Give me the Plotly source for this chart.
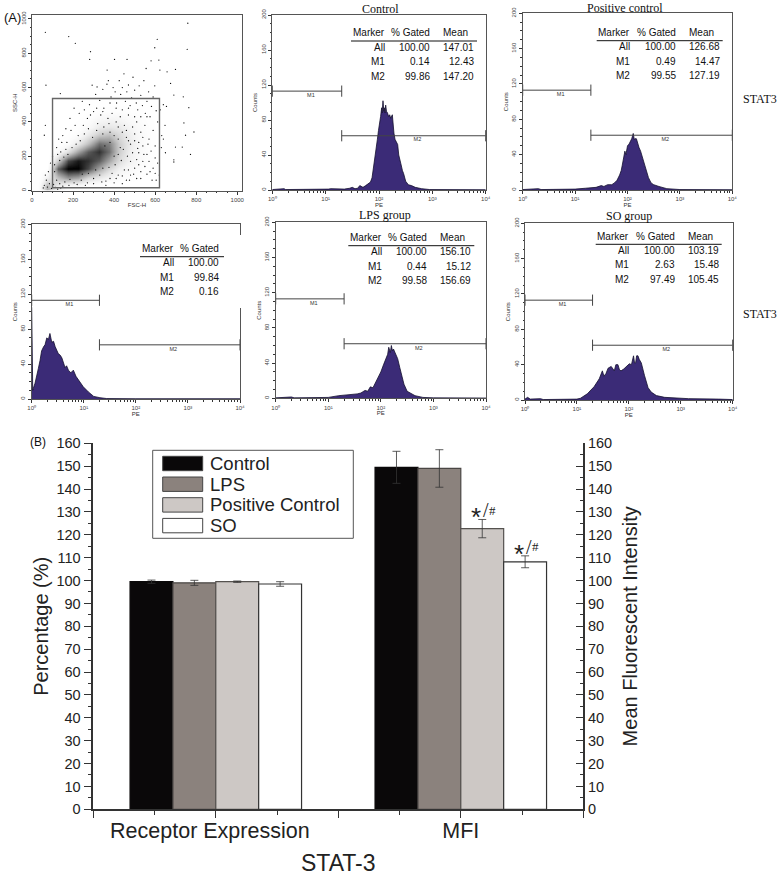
import plotly.graph_objects as go

W, H = 781, 875

# ---- flow cytometry data ----
# histograms: log10(PE) channel position and counts
control_log = [0.0, 0.22, 0.25, 0.3, 0.6, 0.75, 0.9, 1.05, 1.1, 1.25, 1.35, 1.45, 1.5, 1.55, 1.6, 1.64, 1.7, 1.75, 1.8, 1.84,
               1.87, 1.89, 1.91, 1.93, 1.95, 1.97, 1.99, 2.01, 2.03, 2.05, 2.06, 2.075, 2.09, 2.1, 2.115, 2.125, 2.14, 2.16, 2.18, 2.2,
               2.22, 2.25, 2.265, 2.28, 2.3, 2.32, 2.35, 2.37, 2.39, 2.41, 2.44, 2.46, 2.5, 2.55, 2.61, 2.68, 2.8, 2.95, 4.0]
control_counts = [0.5, 1.5, 0.5, 0.5, 0.5, 1, 1, 1, 1.5, 1, 1, 2, 3, 1.5, 2, 5, 3, 5, 7, 9,
                  14, 22, 30, 38, 50, 58, 68, 74, 84, 94, 88, 102, 90, 94, 88, 97, 90, 88, 84, 86,
                  82, 86, 70, 65, 58, 56, 52, 40, 36, 30, 22, 19, 10, 6, 5, 3, 1.5, 0.5, 0.3]

positive_log = [0.0, 0.3, 0.35, 0.7, 1.0, 1.2, 1.4, 1.5, 1.55, 1.62, 1.7, 1.75, 1.8, 1.85, 1.88, 1.9, 1.93, 1.95, 1.97, 2.0,
                2.03, 2.06, 2.08, 2.09, 2.11, 2.13, 2.14, 2.17, 2.2, 2.22, 2.25, 2.3, 2.35, 2.4, 2.45, 2.5, 2.6, 2.75, 3.0, 4.0]
positive_counts = [0.5, 1.5, 0.5, 0.5, 1, 2, 3, 5, 4, 6, 6, 8, 11, 17, 22, 28, 36, 44, 40, 50,
                   52, 55, 58, 60, 64, 57, 58, 58, 50, 48, 44, 33, 22, 14, 8, 6, 4, 1.5, 0.5, 0.3]

low_log = [0.0, 0.02, 0.03, 0.064, 0.1, 0.128, 0.16, 0.19, 0.23, 0.256, 0.29, 0.32, 0.35, 0.385, 0.42, 0.45, 0.51, 0.55, 0.58, 0.64,
           0.67, 0.705, 0.75, 0.8, 0.85, 0.9, 0.99, 1.09, 1.19, 1.31, 1.44, 2.0, 4.0]
low_counts = [105, 10, 12, 18, 26, 35, 44, 55, 60, 62, 70, 68, 75, 65, 66, 60, 52, 50, 47, 36,
              38, 33, 30, 33, 26, 22, 14, 8, 3, 1.5, 0.5, 0.3, 0.3]

lps_log = [0.0, 0.3, 0.35, 0.7, 1.0, 1.2, 1.4, 1.55, 1.62, 1.7, 1.75, 1.8, 1.85, 1.92, 1.97, 2.0, 2.05, 2.1, 2.13, 2.15,
           2.18, 2.2, 2.22, 2.24, 2.28, 2.32, 2.36, 2.4, 2.44, 2.5, 2.55, 2.65, 2.8, 3.0, 4.0]
lps_counts = [0.5, 1.5, 0.5, 0.5, 1, 3, 4, 5, 6, 9, 8, 13, 12, 20, 25, 30, 38, 45, 50, 58,
              52, 60, 54, 56, 50, 45, 35, 25, 16, 8, 6, 3, 1, 0.5, 0.3]

so_log = [0.0, 0.05, 0.1, 0.3, 0.35, 0.75, 1.0, 1.07, 1.2, 1.33, 1.43, 1.49, 1.52, 1.56, 1.6, 1.66, 1.72, 1.75, 1.79, 1.82,
          1.85, 1.9, 1.95, 2.01, 2.05, 2.09, 2.11, 2.13, 2.15, 2.175, 2.2, 2.24, 2.3, 2.37, 2.43, 2.53, 2.69, 2.89, 3.15, 3.73, 4.0]
so_counts = [1, 3, 1, 1.5, 0.5, 1, 1, 2, 7, 15, 24, 33, 27, 30, 36, 38, 33, 40, 40, 34,
             33, 35, 38, 41, 40, 50, 42, 42, 50, 50, 46, 42, 28, 14, 9, 5, 3, 2, 1.5, 1, 0.5]

gate_m1_pe = [1, 20]
gate_m2_pe = [20, 10000]
gate_m1_level = 113
gate_m2_level = 62
decade_labels = ["10⁰", "10¹", "10²", "10³", "10⁴"]

# statistic tables
table_markers = ["All", "M1", "M2"]
control_gated = ["100.00", "0.14", "99.86"]
control_mean = ["147.01", "12.43", "147.20"]
positive_gated = ["100.00", "0.49", "99.55"]
positive_mean = ["126.68", "14.47", "127.19"]
low_gated = ["100.00", "99.84", "0.16"]
lps_gated = ["100.00", "0.44", "99.58"]
lps_mean = ["156.10", "15.12", "156.69"]
so_gated = ["100.00", "2.63", "97.49"]
so_mean = ["103.19", "15.48", "105.45"]

# FSC/SSC dot plot: density of the main cloud, plus the separate dots
density_fsc = [25, 75, 125, 175, 225, 275, 325, 375, 425, 475, 525, 575, 625]
density_ssc = [25, 75, 125, 175, 225, 275, 325, 375, 425, 475, 525, 575]
density = [
    [0, .55, .25, .1, .1, .05, .03, 0, 0, 0, 0, 0, 0],
    [0, .25, .5, .65, .6, .4, .3, .2, .12, .08, .05, .03, 0],
    [0, .05, .8, 1, 1, .85, .6, .4, .25, .15, .1, .05, 0],
    [0, 0, .45, .85, .95, .9, .8, .6, .38, .22, .14, .07, .01],
    [0, 0, .15, .35, .6, .8, .9, .75, .45, .25, .15, .08, .02],
    [0, 0, .04, .12, .3, .5, .75, .7, .45, .28, .16, .08, .02],
    [0, 0, .01, .05, .13, .28, .45, .5, .38, .25, .15, .08, .02],
    [0, 0, 0, .03, .07, .15, .27, .3, .28, .2, .13, .07, .02],
    [0, 0, 0, .01, .04, .08, .15, .18, .17, .13, .1, .05, .02],
    [0, 0, 0, 0, .01, .03, .05, .06, .06, .05, .05, .03, .01],
    [0, 0, 0, 0, 0, .01, .02, .02, .03, .03, .03, .02, 0],
    [0, 0, 0, 0, 0, 0, .01, .01, .02, .02, .01, .01, 0],
]
dots_fsc = [65, 179, 211, 285, 281, 759, 610, 598, 756, 463, 402, 618, 580, 556, 699, 658, 623, 366, 68, 293,
            317, 138, 675, 691, 737, 764, 740, 789, 748, 772, 691, 691, 699, 732, 65, 60,
            310, 330, 345, 365, 372, 385, 395, 405, 412, 425, 432, 440, 448, 455, 462, 470, 478, 485, 492, 500,
            508, 515, 522, 530, 538, 545, 552, 560, 568, 575, 582, 590, 598, 605, 612, 625, 632, 640, 648, 655,
            640, 630, 650, 612, 620, 605, 575, 540, 520, 500, 480, 460, 440, 400, 360,
            230, 250, 270, 280, 300, 320, 335, 350, 370, 390, 410, 430, 450, 470, 490, 510, 530, 550, 570, 590,
            350, 380, 420, 460, 500, 540, 560, 520, 480, 450, 420, 380, 340, 300, 260, 220, 180, 150,
            120, 130, 150, 170, 190, 210, 225, 100, 90, 80, 70, 65, 60, 55, 110, 140, 165, 75, 85, 95, 105, 115, 125, 140,
            240, 270, 300, 330, 360, 390, 410, 440, 470, 495, 510, 530, 550, 570, 590, 600, 580, 600, 565, 540, 520, 500,
            480, 460, 440, 420, 400, 375, 345, 315, 295, 275, 255, 235, 215, 195, 175, 155, 135, 120, 135, 160, 185, 205,
            245, 275, 310, 345, 375, 405, 435, 465, 490, 515, 545, 400, 430, 380, 355, 420, 445, 470, 510, 475, 530, 560,
            585, 600, 560, 530, 500, 470, 440, 410, 380, 345, 315, 285, 255, 245, 205, 185, 165, 145, 125, 110]
dots_ssc = [922, 897, 858, 809, 764, 975, 881, 832, 823, 764, 764, 760, 756, 711, 706, 692, 702, 702, 614, 614,
            604, 565, 624, 556, 546, 483, 394, 341, 322, 210, 179, 166, 253, 253, 380, 322,
            560, 525, 590, 620, 640, 545, 600, 575, 510, 640, 560, 600, 680, 520, 575, 615, 495, 540, 660, 585,
            510, 470, 610, 555, 495, 640, 450, 520, 575, 430, 490, 545, 610, 465, 400, 470, 320, 500, 380, 490,
            300, 250, 220, 160, 90, 60, 110, 170, 220, 130, 90, 60, 40, 45, 30,
            450, 380, 420, 500, 460, 390, 440, 480, 420, 450, 400, 430, 380, 440, 370, 400, 340, 380, 300, 350,
            370, 340, 300, 310, 290, 260, 210, 150, 170, 120, 90, 70, 50, 40, 30, 35, 30, 25,
            250, 300, 320, 280, 350, 380, 320, 200, 160, 110, 60, 90, 30, 15, 150, 225, 240, 20, 40, 12, 35, 18, 8, 14,
            60, 45, 70, 90, 55, 100, 70, 85, 120, 95, 70, 110, 140, 170, 130, 190, 230, 260, 270, 310, 280, 330,
            270, 350, 340, 370, 320, 390, 330, 350, 310, 360, 330, 290, 270, 250, 210, 195, 175, 60, 40, 50, 65, 45,
            95, 100, 120, 130, 135, 150, 175, 200, 220, 245, 210, 200, 250, 280, 260, 210, 240, 290, 180, 60, 70, 95,
            60, 100, 430, 430, 430, 480, 470, 480, 510, 460, 480, 440, 470, 520, 480, 420, 360, 280, 210, 110]

# ---- bar chart data ----
series_names = ["Control", "LPS", "Positive Control", "SO"]
series_colors = ["#0a0809", "#8b827d", "#cdc8c5", "#ffffff"]
series_edges = ["#0a0809", "#4a4644", "#55524f", "#333333"]
bar_categories = ["Receptor Expression\u00a0\u00a0", "MFI"]
receptor_values = [99.5, 99.0, 99.5, 98.5]
receptor_errors = [0.7, 1.1, 0.3, 1.0]
mfi_values = [149.5, 149.0, 122.7, 108.2]
mfi_errors = [7.0, 8.2, 4.0, 2.6]
mfi_marked = [False, False, True, True]


def fx(px):
    return px / W


def fy(py):
    return 1 - py / H


LABEL = "Liberation Sans"
SERIF = "Liberation Serif"
fig = go.Figure()
annotations = []
shapes = []
layout = {}


def text(px, py, s, size, family=LABEL, anchor="center", angle=0, color="#111111"):
    annotations.append(dict(xref="paper", yref="paper", x=fx(px), y=fy(py), text=s, showarrow=False,
                            xanchor=anchor, yanchor="middle", textangle=angle, borderpad=0,
                            font=dict(family=family, size=size, color=color)))


def small_axes(n, box, xaxis_extra, yaxis_extra):
    left, top, right, bottom = box
    common = dict(showline=True, linecolor="#555555", linewidth=1, mirror=True, showgrid=False, zeroline=False,
                  ticks="outside", ticklen=3, tickcolor="#333333", tickwidth=0.7, automargin=False,
                  tickfont=dict(family=LABEL, size=6, color="#444444"))
    layout[f"xaxis{n}"] = dict(common, domain=[fx(left), fx(right)], anchor=f"y{n}",
                               title=dict(font=dict(family=LABEL, size=6, color="#333333"), standoff=1), **xaxis_extra)
    layout[f"yaxis{n}"] = dict(common, domain=[fy(bottom), fy(top)], anchor=f"x{n}", tickangle=-90,
                               title=dict(font=dict(family=LABEL, size=6, color="#333333"), standoff=2), **yaxis_extra)


def histogram_panel(n, box, logs, counts):
    small_axes(n, box,
               dict(type="log", range=[0, 4], tickvals=[1, 10, 100, 1000, 10000],
                    ticktext=decade_labels, title_text="PE",
                    minor=dict(ticks="outside", ticklen=1.5, dtick="D1", tickcolor="#333333", tickwidth=0.5)),
               dict(range=[0, 200], tickvals=[0, 40, 80, 120, 160, 200], title_text="Counts",
                    minor=dict(ticks="outside", ticklen=1.5, dtick=10, tickcolor="#333333", tickwidth=0.5)))
    xa, ya = f"x{n}", f"y{n}"
    fig.add_trace(go.Scatter(x=[10 ** v for v in logs], y=counts, mode="lines", xaxis=xa, yaxis=ya,
                             line=dict(color="#14102e", width=0.8),
                             fill="tozeroy", fillcolor="#3b2b77", showlegend=False))
    for pe, level, lab, lab_x in [(gate_m1_pe, gate_m1_level, "M1", 5.3), (gate_m2_pe, gate_m2_level, "M2", 525)]:
        fig.add_trace(go.Scatter(x=pe, y=[level, level], mode="lines+markers", xaxis=xa, yaxis=ya, cliponaxis=False,
                                 line=dict(color="#444444", width=1),
                                 marker=dict(symbol="line-ns", size=8, line=dict(color="#444444", width=1)),
                                 showlegend=False))
        fig.add_trace(go.Scatter(x=[lab_x], y=[level - 5], mode="text", text=[lab], xaxis=xa, yaxis=ya,
                                 textfont=dict(family=LABEL, size=5.5, color="#333333"), showlegend=False))


def stat_table(rule_x, rule_y, gated, mean=None):
    width = 126 if mean else 84
    shapes.append(dict(type="line", xref="paper", yref="paper", x0=fx(rule_x), x1=fx(rule_x + width),
                       y0=fy(rule_y), y1=fy(rule_y), line=dict(color="#111111", width=1)))
    text(rule_x + 34.7, rule_y - 8, "Marker", 10, anchor="right")
    text(rule_x + 80, rule_y - 8, "% Gated", 10, anchor="right")
    if mean:
        text(rule_x + 118, rule_y - 8, "Mean", 10, anchor="right")
    for i, marker in enumerate(table_markers):
        row_y = rule_y + 6 + 14.5 * i
        text(rule_x + 34.7, row_y, marker, 10, anchor="right")
        text(rule_x + 80, row_y, gated[i], 10, anchor="right")
        if mean:
            text(rule_x + 124, row_y, mean[i], 10, anchor="right")


# ---- (A) dot plot ----
small_axes(1, (32, 15, 242, 190.5),
           dict(range=[0, 1023], tickvals=[0, 200, 400, 600, 800, 1000], title_text="FSC-H",
                minor=dict(ticks="outside", ticklen=1.5, dtick=50, tickcolor="#333333", tickwidth=0.5)),
           dict(range=[0, 1023], tickvals=[0, 200, 400, 600, 800, 1000], title_text="SSC-H",
                minor=dict(ticks="outside", ticklen=1.5, dtick=50, tickcolor="#333333", tickwidth=0.5)))
fig.add_trace(go.Heatmap(x=density_fsc, y=density_ssc, z=density, xaxis="x1", yaxis="y1", zsmooth="best",
                         zmin=0, zmax=1, showscale=False,
                         colorscale=[[0, "rgba(255,255,255,0)"], [1, "rgba(0,0,0,1)"]]))
fig.add_trace(go.Scatter(x=dots_fsc, y=dots_ssc, mode="markers", xaxis="x1", yaxis="y1",
                         marker=dict(color="#111111", size=1.3), showlegend=False))
shapes.append(dict(type="rect", xref="x1", yref="y1", x0=100, x1=621, y0=16, y1=536,
                   line=dict(color="#666666", width=1.4)))

# ---- (A) histograms ----
histogram_panel(2, (272.3, 15, 485.7, 190), control_log, control_counts)
histogram_panel(3, (522.7, 13.3, 732.3, 190), positive_log, positive_counts)
histogram_panel(4, (31.7, 224.3, 240, 399), low_log, low_counts)
histogram_panel(5, (275.7, 222.3, 486, 398.3), lps_log, lps_counts)
histogram_panel(6, (525, 223.3, 732.7, 400), so_log, so_counts)

stat_table(351, 41, control_gated, control_mean)
stat_table(596.7, 40.7, positive_gated, positive_mean)
stat_table(140, 256.7, low_gated)
stat_table(348.3, 245.7, lps_gated, lps_mean)
stat_table(595.7, 244.3, so_gated, so_mean)

# the table hides part of the frame in the lower left panel
shapes.append(dict(type="rect", xref="paper", yref="paper", x0=fx(238), x1=fx(242), y0=fy(308), y1=fy(235),
                   fillcolor="white", line=dict(width=0)))

text(380, 9, "Control", 12, SERIF)
text(625, 8, "Positive control", 12, SERIF)
text(385, 215, "LPS group", 12, SERIF)
text(629, 216, "SO group", 12, SERIF)
text(760, 99, "STAT3", 12, SERIF)
text(760, 314, "STAT3", 12, SERIF)
text(3, 17, "(A)", 13, anchor="left")
text(29, 442, "(B)", 12, anchor="left")

# ---- (B) bars ----
BAR = 0.175
for i, name in enumerate(series_names):
    offset = -2 * BAR + i * BAR
    fig.add_trace(go.Bar(name=name, x=[1], y=[receptor_values[i]], width=BAR, offset=offset, xaxis="x7", yaxis="y7",
                         marker=dict(color=series_colors[i], line=dict(color=series_edges[i], width=1.2)),
                         error_y=dict(type="data", array=[receptor_errors[i]], color="#333333", thickness=0.8, width=4),
                         showlegend=False))
    fig.add_trace(go.Bar(name=name, x=[2], y=[mfi_values[i]], width=BAR, offset=offset, xaxis="x7", yaxis="y8",
                         marker=dict(color=series_colors[i], line=dict(color=series_edges[i], width=1.2)),
                         error_y=dict(type="data", array=[mfi_errors[i]], color="#333333", thickness=0.8, width=4),
                         showlegend=False))
    if mfi_marked[i]:
        # "*/#" above the error bar, the three glyphs have their own sizes and offsets
        for glyph, family, size, xshift, yshift in [("*", LABEL, 26, -6.3, 2), ("/", SERIF, 20, 3.4, 9), ("#", SERIF, 13, 10.5, 9)]:
            annotations.append(dict(xref="x7", yref="y8", x=2 - 2 * BAR + (i + 0.5) * BAR, y=mfi_values[i] + mfi_errors[i],
                                    yanchor="middle", xshift=xshift, yshift=yshift, showarrow=False, text=glyph,
                                    font=dict(family=family, size=size, color="#222222")))

bar_ticks = dict(ticklen=8, tickcolor="#333333", tickwidth=1.2, automargin=False,
                 tickfont=dict(family=LABEL, size=14.5, color="#222222"))
y_ticks = list(range(0, 170, 10))
layout["xaxis7"] = dict(domain=[fx(93.3), fx(583.3)], anchor="y7", range=[0.5, 2.5], showgrid=False, zeroline=False,
                        showline=True, linecolor="#333333", linewidth=1.5, ticks="outside", ticklen=7,
                        tickcolor="#333333", tickwidth=1.2, automargin=False, ticklabelstandoff=-6,
                        tickvals=[0.5, 1, 1.5, 2, 2.5], ticktext=["", bar_categories[0], "", bar_categories[1], ""],
                        tickfont=dict(family=LABEL, size=21.5, color="#222222"),
                        minor=dict(ticks="outside", ticklen=4, tickvals=[0.75, 1.25, 1.75, 2.25],
                                   tickcolor="#333333", tickwidth=1.2))
layout["yaxis7"] = dict(bar_ticks, domain=[fy(809.3), fy(443.3)], anchor="x7", range=[0, 160], tickvals=y_ticks,
                        showgrid=False, zeroline=False, showline=True, linecolor="#333333", linewidth=1.5,
                        ticks="outside", minor=dict(ticks="outside", ticklen=4, dtick=5, tickcolor="#333333", tickwidth=1),
                        title=dict(text="Percentage (%)", font=dict(family=LABEL, size=20, color="#222222"), standoff=2))
layout["yaxis8"] = dict(bar_ticks, overlaying="y7", anchor="x7", side="right", range=[0, 160], tickvals=y_ticks,
                        showgrid=False, zeroline=False, showline=True, linecolor="#333333", linewidth=1.5,
                        ticks="inside", minor=dict(ticks="inside", ticklen=4, dtick=5, tickcolor="#333333", tickwidth=1),
                        title=dict(text="Mean Fluorescent Intensity", font=dict(family=LABEL, size=20, color="#222222"),
                                   standoff=12))

text(338, 863, "STAT-3", 23, color="#222222")

# legend box of panel B
shapes.append(dict(type="rect", xref="paper", yref="paper", x0=fx(152.7), x1=fx(353.3), y0=fy(538.3), y1=fy(450.3),
                   fillcolor="white", line=dict(color="#555555", width=1)))
for i, name in enumerate(series_names):
    sw_top = 456.3 + 20.7 * i
    shapes.append(dict(type="rect", xref="paper", yref="paper", x0=fx(162.7), x1=fx(202.7),
                       y0=fy(sw_top + 14.4), y1=fy(sw_top), fillcolor=series_colors[i],
                       line=dict(color="#444444", width=1)))
    text(209.3, sw_top + 7, name, 18.5, anchor="left", color="#222222")

fig.update_layout(width=W, height=H, margin=dict(l=0, r=0, t=0, b=0), paper_bgcolor="white", plot_bgcolor="rgba(0,0,0,0)",
                  barmode="overlay", showlegend=False, annotations=annotations, shapes=shapes, **layout)
fig.write_html("out.html", config={"displayModeBar": False},
               post_script="document.body.style.margin='0';document.body.style.overflow='hidden';")
